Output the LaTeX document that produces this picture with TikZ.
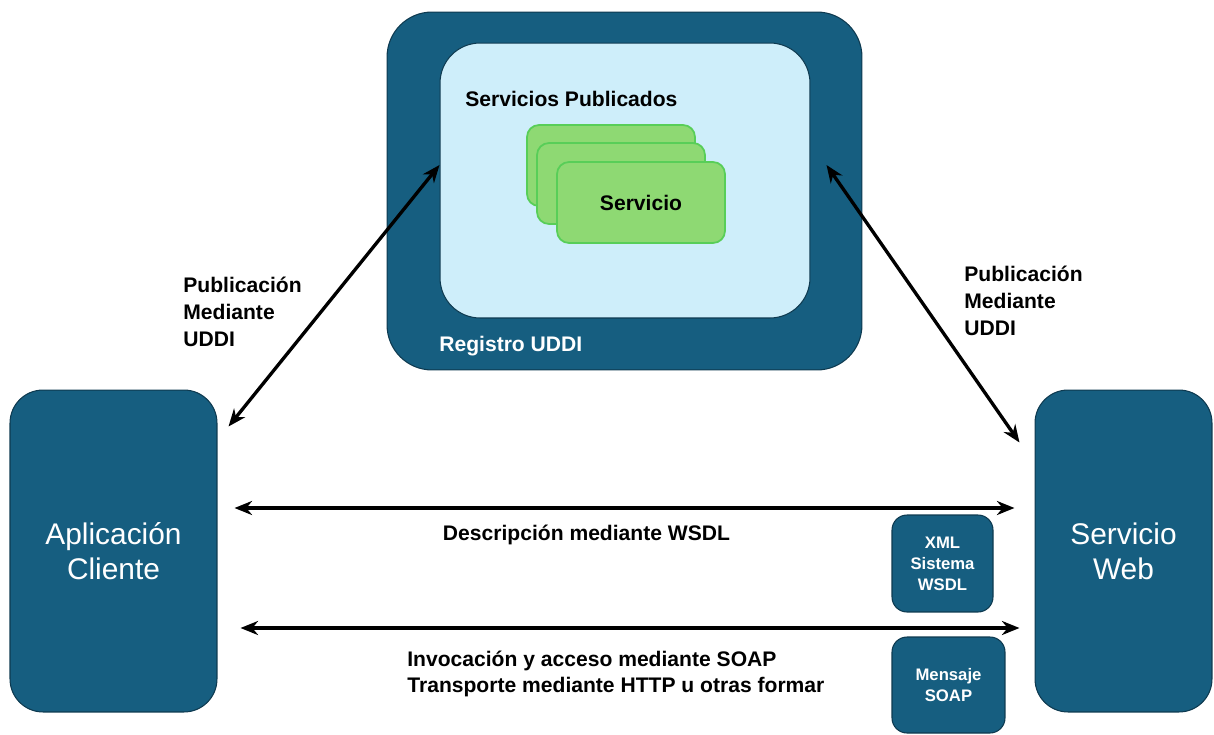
\documentclass[tikz,border=0pt]{standalone}
\usepackage{fontspec}
\setmainfont{Liberation Sans}
\usetikzlibrary{arrows.meta}
\definecolor{uddiblue}{RGB}{22,94,128}
\definecolor{uddiedge}{RGB}{14,58,80}
\definecolor{paleblue}{RGB}{206,238,250}
\definecolor{cardgreen}{RGB}{142,217,115}
\definecolor{cardedge}{RGB}{88,206,88}

\begin{document}
\begin{tikzpicture}[x=0.02cm, y=-0.02cm,
  darkbox/.style={draw=uddiedge, fill=uddiblue, line width=0.6pt, text=white},
  card/.style={draw=cardedge, fill=cardgreen, line width=1pt, rounded corners=0.24cm,
    minimum width=3.36cm, minimum height=1.62cm},
  lbl/.style={font=\bfseries\fontsize{12}{15.3}\selectfont, align=left, inner sep=0pt},
  tag/.style={darkbox, rounded corners=0.3cm, align=center,
    font=\bfseries\fontsize{9.5}{12}\selectfont},
  biarrow/.style={{Stealth[length=10pt,width=8pt]}-{Stealth[length=10pt,width=8pt]},
    line width=1.9pt}]
  \useasboundingbox (0,0) rectangle (1214,734);
  % registry
  \node[darkbox, rounded corners=0.9cm, minimum width=9.5cm, minimum height=7.16cm] (registro) at (624.5,191) {};
  \node[draw=uddiedge, fill=paleblue, line width=0.6pt, rounded corners=0.8cm,
    minimum width=7.4cm, minimum height=5.5cm] (publicados) at (625,180.5) {};
  \node[lbl, text=white, anchor=west] (regtxt) at (439,346) {Registro UDDI};
  \node[lbl, anchor=west] (pubtxt) at (465,99) {Servicios Publicados};
  % published services
  \node[card] (srv1) at (611,165.5) {};
  \node[card] (srv2) at (621,183.5) {};
  \node[card, lbl] (srv3) at (641,202.5) {Servicio};
  % endpoints
  \node[darkbox, rounded corners=0.66cm, minimum width=4.14cm, minimum height=6.44cm,
    align=center, font=\fontsize{17}{20}\selectfont] (cliente) at (113.5,551) {Aplicación\\Cliente};
  \node[darkbox, rounded corners=0.66cm, minimum width=3.54cm, minimum height=6.44cm,
    align=center, font=\fontsize{17}{20}\selectfont] (web) at (1123.5,551) {Servicio\\Web};
  % message tags
  \node[tag, minimum width=2.02cm, minimum height=1.94cm] (wsdl) at (942.5,563.5) {XML\\Sistema\\WSDL};
  \node[tag, minimum width=2.26cm, minimum height=1.92cm] (soap) at (948.5,685) {Mensaje\\SOAP};
  % arrow ends
  \coordinate (cliTop) at ([shift={(11,37)}]cliente.north east);
  \coordinate (regL) at ([shift={(0,-15.5)}]publicados.west);
  \coordinate (regR) at ([shift={(16,-15.5)}]publicados.east);
  \coordinate (webTop) at ([shift={(-15,53)}]web.north west);
  \coordinate (descL) at ([shift={(17,-43)}]cliente.east);
  \coordinate (descR) at ([shift={(-20,-43)}]web.west);
  \coordinate (soapL) at ([shift={(23,77)}]cliente.east);
  \coordinate (soapR) at ([shift={(-15,77)}]web.west);
  % connectors
  \draw[biarrow] (cliTop) -- (regL);
  \draw[biarrow] (regR) -- (webTop);
  \draw[biarrow] (descL) -- (descR);
  \draw[biarrow] (soapL) -- (soapR);
  % labels
  \node[lbl, anchor=west] (pubizq) at (183,312) {Publicación\\Mediante\\UDDI};
  \node[lbl, anchor=west] (pubder) at (964,301) {Publicación\\Mediante\\UDDI};
  \node[lbl] (desc) at (586.5,535) {Descripción mediante WSDL};
  \node[lbl, anchor=west] (invoc) at (407,674) {Invocación y acceso mediante SOAP\\Transporte mediante HTTP u otras formar};
\end{tikzpicture}
\end{document}
